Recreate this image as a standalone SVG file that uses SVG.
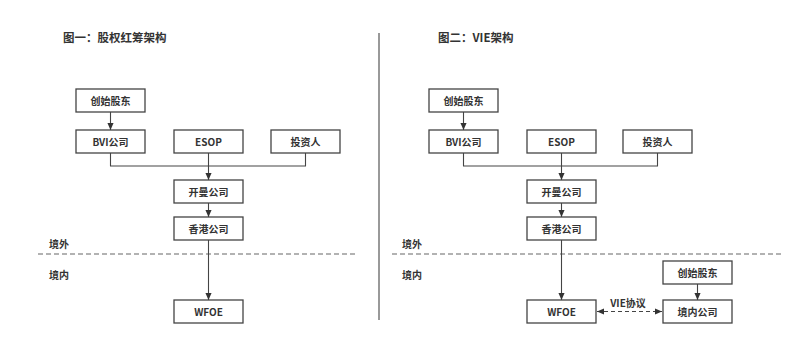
<svg xmlns="http://www.w3.org/2000/svg" width="800" height="340" viewBox="0 0 800 340">
<style>
text{font-family:"Noto Sans CJK SC","Noto Sans",sans-serif;font-weight:bold;fill:#333}
.box{fill:#fff;stroke:#444;stroke-width:1.3}
.lbl{font-size:10px;text-anchor:middle;dominant-baseline:central}
.title{font-size:11.5px}
.zone{font-size:10px}
.ln{fill:none;stroke:#444;stroke-width:1.1}
.dash{fill:none;stroke:#666;stroke-width:1.2;stroke-dasharray:5 3}
</style>
<defs>
<marker id="ah" viewBox="0 0 8 8" refX="8" refY="4" markerWidth="7" markerHeight="7" markerUnits="userSpaceOnUse" orient="auto-start-reverse">
<path d="M0,0.5 L8,4 L0,7.5 z" fill="#333"/>
</marker>
</defs>
<rect width="800" height="340" fill="#fff"/>
<text class="title" x="63" y="42">图一：股权红筹架构</text>
<text class="title" x="438" y="42">图二：VIE架构</text>
<line x1="379" y1="33" x2="379" y2="320" stroke="#777" stroke-width="1.5"/>
<line class="dash" x1="38" y1="254" x2="355" y2="254"/>
<line class="dash" x1="392" y1="254" x2="782" y2="254"/>
<text class="zone" x="49" y="248">境外</text>
<text class="zone" x="49" y="279">境内</text>
<text class="zone" x="402" y="248">境外</text>
<text class="zone" x="402" y="279">境内</text>
<g id="connectors">
<line class="ln" x1="110.5" y1="112" x2="110.5" y2="130" marker-end="url(#ah)"/>
<polyline class="ln" points="110.5,153 110.5,166 305.5,166 305.5,153"/>
<line class="ln" x1="208.5" y1="153" x2="208.5" y2="180" marker-end="url(#ah)"/>
<line class="ln" x1="208.5" y1="203" x2="208.5" y2="217" marker-end="url(#ah)"/>
<line class="ln" x1="208.5" y1="240" x2="208.5" y2="300" marker-end="url(#ah)"/>
<line class="ln" x1="463.5" y1="112" x2="463.5" y2="130" marker-end="url(#ah)"/>
<polyline class="ln" points="463.5,153 463.5,166 657.5,166 657.5,153"/>
<line class="ln" x1="561.5" y1="153" x2="561.5" y2="180" marker-end="url(#ah)"/>
<line class="ln" x1="561.5" y1="203" x2="561.5" y2="217" marker-end="url(#ah)"/>
<line class="ln" x1="561.5" y1="240" x2="561.5" y2="300" marker-end="url(#ah)"/>
<line class="ln" x1="697.5" y1="283" x2="697.5" y2="300" marker-end="url(#ah)"/>
<line class="ln" x1="597" y1="311.5" x2="662" y2="311.5" stroke-dasharray="4 3" marker-start="url(#ah)" marker-end="url(#ah)"/>
<text class="lbl" x="628" y="302">VIE协议</text>
</g>
<g id="l-founder"><rect class="box" x="76" y="89" width="69" height="23"/><text class="lbl" x="110.5" y="100.5">创始股东</text></g>
<g id="l-bvi"><rect class="box" x="76" y="130" width="69" height="23"/><text class="lbl" x="110.5" y="141.5">BVI公司</text></g>
<g id="l-esop"><rect class="box" x="174" y="130" width="69" height="23"/><text class="lbl" x="208.5" y="141.5">ESOP</text></g>
<g id="l-investor"><rect class="box" x="271" y="130" width="69" height="23"/><text class="lbl" x="305.5" y="141.5">投资人</text></g>
<g id="l-cayman"><rect class="box" x="174" y="180" width="69" height="23"/><text class="lbl" x="208.5" y="191.5">开曼公司</text></g>
<g id="l-hk"><rect class="box" x="174" y="217" width="69" height="23"/><text class="lbl" x="208.5" y="228.5">香港公司</text></g>
<g id="l-wfoe"><rect class="box" x="174" y="300" width="69" height="23"/><text class="lbl" x="208.5" y="311.5">WFOE</text></g>
<g id="r-founder"><rect class="box" x="429" y="89" width="69" height="23"/><text class="lbl" x="463.5" y="100.5">创始股东</text></g>
<g id="r-bvi"><rect class="box" x="429" y="130" width="69" height="23"/><text class="lbl" x="463.5" y="141.5">BVI公司</text></g>
<g id="r-esop"><rect class="box" x="527" y="130" width="69" height="23"/><text class="lbl" x="561.5" y="141.5">ESOP</text></g>
<g id="r-investor"><rect class="box" x="623" y="130" width="69" height="23"/><text class="lbl" x="657.5" y="141.5">投资人</text></g>
<g id="r-cayman"><rect class="box" x="527" y="180" width="69" height="23"/><text class="lbl" x="561.5" y="191.5">开曼公司</text></g>
<g id="r-hk"><rect class="box" x="527" y="217" width="69" height="23"/><text class="lbl" x="561.5" y="228.5">香港公司</text></g>
<g id="r-wfoe"><rect class="box" x="527" y="300" width="69" height="23"/><text class="lbl" x="561.5" y="311.5">WFOE</text></g>
<g id="r-founder2"><rect class="box" x="663" y="261" width="69" height="23"/><text class="lbl" x="697.5" y="272.5">创始股东</text></g>
<g id="r-domestic"><rect class="box" x="663" y="300" width="69" height="23"/><text class="lbl" x="697.5" y="311.5">境内公司</text></g>
</svg>
